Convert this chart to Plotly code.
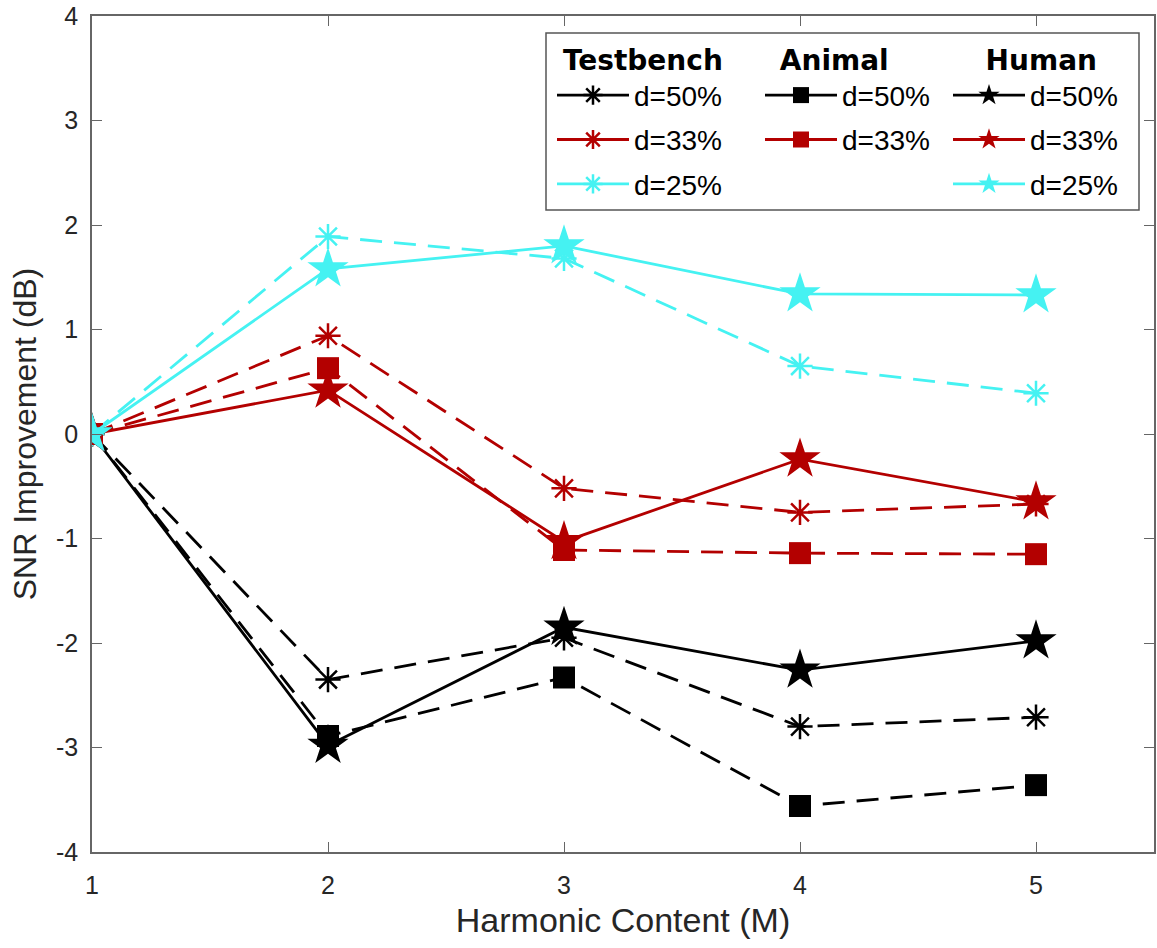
import plotly.graph_objects as go

harmonics = [1, 2, 3, 4, 5]

testbench_50 = [0, -2.35, -1.95, -2.80, -2.71]
testbench_33 = [0, 0.94, -0.52, -0.75, -0.67]
testbench_25 = [0, 1.89, 1.68, 0.65, 0.39]
animal_50 = [0, -2.89, -2.33, -3.56, -3.36]
animal_33 = [0, 0.63, -1.11, -1.14, -1.15]
human_50 = [0, -2.98, -1.85, -2.26, -1.98]
human_33 = [0, 0.42, -1.03, -0.24, -0.65]
human_25 = [0, 1.58, 1.80, 1.34, 1.33]

x_ticks = [1, 2, 3, 4, 5]
x_tick_labels = ["1", "2", "3", "4", "5"]
y_ticks = [-4, -3, -2, -1, 0, 1, 2, 3, 4]
y_tick_labels = ["-4", "-3", "-2", "-1", "0", "1", "2", "3", "4"]

BLACK = "#000000"
RED = "#B30000"
CYAN = "#45F2F2"
DASH = "22px,12px"

series = [
    ("d=50%", testbench_50, BLACK, "asterisk-open", DASH, "legend", "tb50"),
    ("d=33%", testbench_33, RED, "asterisk-open", DASH, "legend", "tb33"),
    ("d=25%", testbench_25, CYAN, "asterisk-open", DASH, "legend", "tb25"),
    ("d=50%", animal_50, BLACK, "square", DASH, "legend2", "an50"),
    ("d=33%", animal_33, RED, "square", DASH, "legend2", "an33"),
    ("d=50%", human_50, BLACK, "star", "solid", "legend3", "hu50"),
    ("d=33%", human_33, RED, "star", "solid", "legend3", "hu33"),
    ("d=25%", human_25, CYAN, "star", "solid", "legend3", "hu25"),
]

def marker_style(symbol, color):
    if symbol == "star":
        return dict(symbol=symbol, size=31, color=color, line=dict(width=0, color=color))
    if symbol == "square":
        return dict(symbol=symbol, size=22, color=color, line=dict(width=0, color=color))
    return dict(symbol=symbol, size=21, color=color, line=dict(width=2.5, color=color))

fig = go.Figure()
for name, ys, color, symbol, dash, leg, grp in series:
    fig.add_trace(go.Scatter(
        x=harmonics, y=ys, name=name, mode="lines+markers",
        line=dict(color=color, width=2.8, dash=dash),
        marker=marker_style(symbol, color),
        legend=leg, legendgroup=grp, showlegend=False,
    ))

# legend entries (the reference legend shows solid line samples)
for name, ys, color, symbol, dash, leg, grp in series:
    fig.add_trace(go.Scatter(
        x=[None], y=[None], name=name, mode="lines+markers",
        line=dict(color=color, width=2.8, dash="solid"),
        marker=marker_style(symbol, color),
        legend=leg, legendgroup=grp, showlegend=True, hoverinfo="skip",
    ))

# body margin is removed by the post script, so the figure fills the page
PAGE_W, PAGE_H = 1157, 948
W, H = PAGE_W, PAGE_H
# plot area in page coordinates
L, R, T, B = 92, 1154, 16, 852
pw, ph = R - L, B - T

def px(x):
    return (x - L) / pw

def py(y):
    return (B - y) / ph

TXT = "Liberation Sans, Arial, sans-serif"
leg_font = dict(family=TXT, size=28, color="black")
title_font = dict(family="DejaVu Sans, sans-serif", size=28, color="black")

def legend_cfg(xp, title, pad):
    return dict(
        x=px(xp), y=py(34), xanchor="left", yanchor="top",
        bgcolor="rgba(0,0,0,0)", borderwidth=0,
        font=leg_font, itemwidth=72, tracegroupgap=5,
        title=dict(text="&nbsp;" * pad + "<b>" + title + "</b>", font=title_font, side="top"),
        itemclick=False, itemdoubleclick=False,
    )

fig.update_layout(
    width=W, height=H,
    margin=dict(l=L, r=PAGE_W - R, t=T, b=PAGE_H - B),
    paper_bgcolor="white", plot_bgcolor="white",
    font=dict(family=TXT, size=26, color="#262626"),
    showlegend=True,
    legend=legend_cfg(552, "Testbench", 1),
    legend2=legend_cfg(760, "Animal", 2),
    legend3=legend_cfg(948, "Human", 4),
    shapes=[dict(type="rect", xref="paper", yref="paper",
                 x0=px(546), x1=px(1139), y0=py(210), y1=py(33),
                 line=dict(color="#555555", width=1.5), fillcolor="rgba(0,0,0,0)",
                 layer="below")],
)

axis_common = dict(
    showgrid=False, zeroline=False, showline=True, linecolor="#666666", linewidth=1.5,
    mirror="ticks", ticks="inside", ticklen=10, tickcolor="#666666", tickwidth=1.2,
    tickfont=dict(family=TXT, size=25, color="#262626"), ticklabeloverflow="allow",
    automargin=False,
)

fig.update_xaxes(
    range=[1, 5.5], tickvals=x_ticks, ticktext=x_tick_labels, ticklabelstandoff=10,
    title=dict(text="Harmonic Content (M)", font=dict(family=TXT, size=34, color="#262626"), standoff=10),
    **axis_common,
)
fig.update_yaxes(
    range=[-4, 4], tickvals=y_ticks, ticktext=y_tick_labels, ticklabelstandoff=7,
    title=dict(text="SNR Improvement (dB)", font=dict(family=TXT, size=32, color="#262626"), standoff=10),
    **axis_common,
)

fig.write_html(
    "out.html",
    config={"displayModeBar": False},
    post_script="document.body.style.margin='0';document.body.style.overflow='hidden';",
)
